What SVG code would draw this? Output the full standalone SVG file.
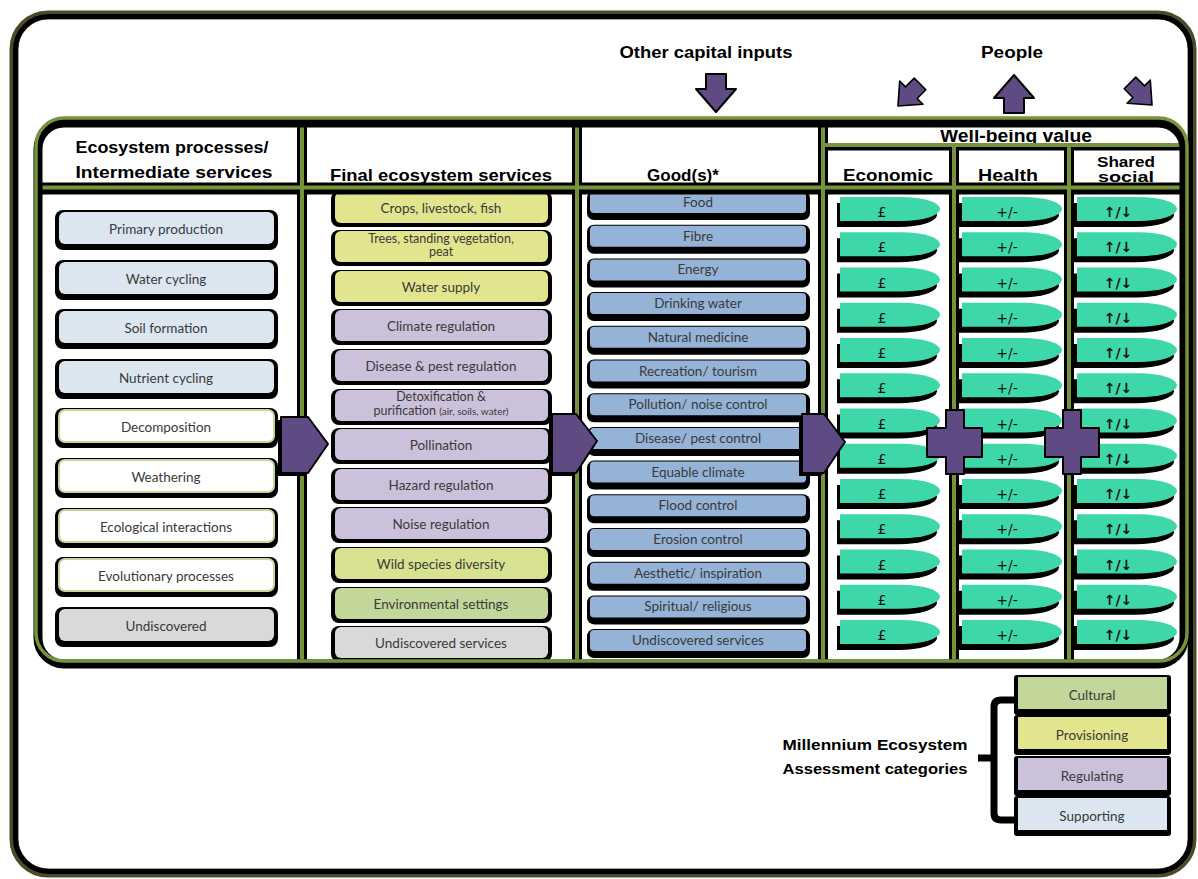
<svg xmlns="http://www.w3.org/2000/svg" width="1198" height="879" viewBox="0 0 1198 879">
<defs>
<style>
.hd{font-family:"Liberation Sans",Arial,sans-serif;font-weight:bold;fill:#000;text-anchor:middle}
.lb{font-family:Lato,"Open Sans","Liberation Sans",sans-serif;font-size:13.5px;fill:#3a3a3a;text-anchor:middle}
.l2{font-size:12.5px}
.sm{font-size:10px}
.sh{fill:#000}
.sup{fill:#dce6f1}
.wg{fill:#fff;stroke:#c3d69b;stroke-width:2}
.und{fill:#d9d9d9}
.pro{fill:#e3e58e}
.reg{fill:#ccc1da}
.wild{fill:#d8e290}
.cul{fill:#c4d79b}
.gd{fill:#95b3d7}
.pill{fill:#3ed7aa}
.pur{fill:#5f4a84;stroke:#000;stroke-width:2;stroke-linejoin:round}
.gl{stroke:#77933c;stroke-width:4;fill:none}
.bl{stroke:#000;stroke-width:10;fill:none}
.pv{font-family:"DejaVu Sans",sans-serif;font-size:14px;fill:#111;text-anchor:middle}
.pva{font-family:"DejaVu Sans",sans-serif;font-size:14px;font-weight:bold;fill:#111;text-anchor:middle}
</style>
<path id="pl" d="M0,0 H62 A38,12 0 0 1 62,24 H0 Z"/>
<path id="ar" d="M-10,-19 H10 V-4 H20 L0,19 L-20,-4 H-10 Z"/>
<clipPath id="cw"><rect x="826" y="130" width="358" height="15"/></clipPath>
<clipPath id="cs"><rect x="1074" y="156" width="110" height="28"/></clipPath>
</defs>
<rect width="1198" height="879" fill="#fff"/>
<g id="frame">
<rect x="14" y="15" width="1178" height="858" rx="34" fill="#fff" stroke="#4d4a2a" stroke-width="9"/>
<rect x="15.5" y="16.5" width="1175" height="855" rx="33" fill="none" stroke="#000" stroke-width="5"/>
</g>
<g id="top-labels">
<text class="hd" x="706" y="58" font-size="16" textLength="173" lengthAdjust="spacingAndGlyphs">Other capital inputs</text>
<text class="hd" x="1012" y="58" font-size="16" textLength="62" lengthAdjust="spacingAndGlyphs">People</text>
</g>
<g id="table-bg">
<rect x="36" y="118" width="1151" height="543" rx="28" fill="#fff"/>
</g>
<g id="headers">
<text class="hd" x="172" y="153" font-size="17" textLength="193" lengthAdjust="spacingAndGlyphs">Ecosystem processes/</text>
<text class="hd" x="174" y="178" font-size="17" textLength="197" lengthAdjust="spacingAndGlyphs">Intermediate services</text>
<text class="hd" x="441" y="181" font-size="17" textLength="222" lengthAdjust="spacingAndGlyphs">Final ecosystem services</text>
<text class="hd" x="683" y="181" font-size="17">Good(s)*</text>
<text class="hd" x="1016" y="142" font-size="18" textLength="152" lengthAdjust="spacingAndGlyphs" clip-path="url(#cw)">Well-being value</text>
<text class="hd" x="888" y="181" font-size="17" textLength="90" lengthAdjust="spacingAndGlyphs">Economic</text>
<text class="hd" x="1008" y="181" font-size="17" textLength="60" lengthAdjust="spacingAndGlyphs">Health</text>
<g clip-path="url(#cs)">
<text class="hd" x="1126" y="167" font-size="15" textLength="58" lengthAdjust="spacingAndGlyphs">Shared</text>
<text class="hd" x="1126" y="182" font-size="15" textLength="56" lengthAdjust="spacingAndGlyphs">social</text>
</g>
</g>
<!-- column 1 -->
<g id="c1-primary"><rect class="sh" x="55" y="210" width="223" height="40" rx="8"/><rect class="sup" x="59" y="212" width="215" height="32" rx="6"/><text class="lb" x="166" y="234">Primary production</text></g>
<g id="c1-water"><rect class="sh" x="55" y="260" width="223" height="40" rx="8"/><rect class="sup" x="59" y="262" width="215" height="32" rx="6"/><text class="lb" x="166" y="284">Water cycling</text></g>
<g id="c1-soil"><rect class="sh" x="55" y="309" width="223" height="40" rx="8"/><rect class="sup" x="59" y="311" width="215" height="32" rx="6"/><text class="lb" x="166" y="333">Soil formation</text></g>
<g id="c1-nutrient"><rect class="sh" x="55" y="359" width="223" height="40" rx="8"/><rect class="sup" x="59" y="361" width="215" height="32" rx="6"/><text class="lb" x="166" y="383">Nutrient cycling</text></g>
<g id="c1-decomp"><rect class="sh" x="55" y="408" width="223" height="40" rx="8"/><rect class="wg" x="59" y="410" width="215" height="32" rx="6"/><text class="lb" x="166" y="432">Decomposition</text></g>
<g id="c1-weather"><rect class="sh" x="55" y="458" width="223" height="40" rx="8"/><rect class="wg" x="59" y="460" width="215" height="32" rx="6"/><text class="lb" x="166" y="482">Weathering</text></g>
<g id="c1-ecol"><rect class="sh" x="55" y="508" width="223" height="40" rx="8"/><rect class="wg" x="59" y="510" width="215" height="32" rx="6"/><text class="lb" x="166" y="532">Ecological interactions</text></g>
<g id="c1-evol"><rect class="sh" x="55" y="557" width="223" height="40" rx="8"/><rect class="wg" x="59" y="559" width="215" height="32" rx="6"/><text class="lb" x="166" y="581">Evolutionary processes</text></g>
<g id="c1-undisc"><rect class="sh" x="55" y="607" width="223" height="40" rx="8"/><rect class="und" x="59" y="609" width="215" height="32" rx="6"/><text class="lb" x="166" y="631">Undiscovered</text></g>
<!-- column 2 -->
<g id="c2-crops"><rect class="sh" x="331" y="191" width="221" height="36" rx="8"/><rect class="pro" x="335" y="192" width="213" height="31" rx="6"/><text class="lb" x="441" y="213">Crops, livestock, fish</text></g>
<g id="c2-trees"><rect class="sh" x="331" y="230" width="221" height="36" rx="8"/><rect class="pro" x="335" y="231" width="213" height="31" rx="6"/><text class="lb l2" x="441" y="243">Trees, standing vegetation,</text><text class="lb l2" x="441" y="256">peat</text></g>
<g id="c2-watersup"><rect class="sh" x="331" y="270" width="221" height="36" rx="8"/><rect class="pro" x="335" y="271" width="213" height="31" rx="6"/><text class="lb" x="441" y="292">Water supply</text></g>
<g id="c2-climate"><rect class="sh" x="331" y="309" width="221" height="36" rx="8"/><rect class="reg" x="335" y="310" width="213" height="31" rx="6"/><text class="lb" x="441" y="331">Climate regulation</text></g>
<g id="c2-disease"><rect class="sh" x="331" y="349" width="221" height="36" rx="8"/><rect class="reg" x="335" y="350" width="213" height="31" rx="6"/><text class="lb" x="441" y="371">Disease &amp; pest regulation</text></g>
<g id="c2-detox"><rect class="sh" x="331" y="389" width="221" height="36" rx="8"/><rect class="reg" x="335" y="390" width="213" height="31" rx="6"/><text class="lb l2" x="441" y="401">Detoxification &amp;</text><text class="lb l2" x="441" y="415">purification <tspan class="sm">(air, soils, water)</tspan></text></g>
<g id="c2-pollin"><rect class="sh" x="331" y="428" width="221" height="36" rx="8"/><rect class="reg" x="335" y="429" width="213" height="31" rx="6"/><text class="lb" x="441" y="450">Pollination</text></g>
<g id="c2-hazard"><rect class="sh" x="331" y="468" width="221" height="36" rx="8"/><rect class="reg" x="335" y="469" width="213" height="31" rx="6"/><text class="lb" x="441" y="490">Hazard regulation</text></g>
<g id="c2-noise"><rect class="sh" x="331" y="507" width="221" height="36" rx="8"/><rect class="reg" x="335" y="508" width="213" height="31" rx="6"/><text class="lb" x="441" y="529">Noise regulation</text></g>
<g id="c2-wild"><rect class="sh" x="331" y="547" width="221" height="36" rx="8"/><rect class="wild" x="335" y="548" width="213" height="31" rx="6"/><text class="lb" x="441" y="569">Wild species diversity</text></g>
<g id="c2-env"><rect class="sh" x="331" y="587" width="221" height="36" rx="8"/><rect class="cul" x="335" y="588" width="213" height="31" rx="6"/><text class="lb" x="441" y="609">Environmental settings</text></g>
<g id="c2-undisc"><rect class="sh" x="331" y="626" width="221" height="36" rx="8"/><rect class="und" x="335" y="627" width="213" height="31" rx="6"/><text class="lb" x="441" y="648">Undiscovered services</text></g>
<!-- column 3 -->
<g id="c3-food"><rect class="sh" x="587" y="191" width="223" height="29" rx="7"/><rect class="gd" x="590" y="192" width="216" height="21" rx="4"/><text class="lb" x="698" y="207">Food</text></g>
<g id="c3-fibre"><rect class="sh" x="587" y="224.7" width="223" height="29" rx="7"/><rect class="gd" x="590" y="225.7" width="216" height="21" rx="4"/><text class="lb" x="698" y="240.7">Fibre</text></g>
<g id="c3-energy"><rect class="sh" x="587" y="258.4" width="223" height="29" rx="7"/><rect class="gd" x="590" y="259.4" width="216" height="21" rx="4"/><text class="lb" x="698" y="274.4">Energy</text></g>
<g id="c3-drink"><rect class="sh" x="587" y="292.1" width="223" height="29" rx="7"/><rect class="gd" x="590" y="293.1" width="216" height="21" rx="4"/><text class="lb" x="698" y="308.1">Drinking water</text></g>
<g id="c3-medicine"><rect class="sh" x="587" y="325.8" width="223" height="29" rx="7"/><rect class="gd" x="590" y="326.8" width="216" height="21" rx="4"/><text class="lb" x="698" y="341.8">Natural medicine</text></g>
<g id="c3-recreation"><rect class="sh" x="587" y="359.5" width="223" height="29" rx="7"/><rect class="gd" x="590" y="360.5" width="216" height="21" rx="4"/><text class="lb" x="698" y="375.5">Recreation/ tourism</text></g>
<g id="c3-pollution"><rect class="sh" x="587" y="393.2" width="223" height="29" rx="7"/><rect class="gd" x="590" y="394.2" width="216" height="21" rx="4"/><text class="lb" x="698" y="409.2">Pollution/ noise control</text></g>
<g id="c3-disease"><rect class="sh" x="587" y="426.9" width="223" height="29" rx="7"/><rect class="gd" x="590" y="427.9" width="216" height="21" rx="4"/><text class="lb" x="698" y="442.9">Disease/ pest control</text></g>
<g id="c3-climate"><rect class="sh" x="587" y="460.6" width="223" height="29" rx="7"/><rect class="gd" x="590" y="461.6" width="216" height="21" rx="4"/><text class="lb" x="698" y="476.6">Equable climate</text></g>
<g id="c3-flood"><rect class="sh" x="587" y="494.3" width="223" height="29" rx="7"/><rect class="gd" x="590" y="495.3" width="216" height="21" rx="4"/><text class="lb" x="698" y="510.3">Flood control</text></g>
<g id="c3-erosion"><rect class="sh" x="587" y="528" width="223" height="29" rx="7"/><rect class="gd" x="590" y="529" width="216" height="21" rx="4"/><text class="lb" x="698" y="544">Erosion control</text></g>
<g id="c3-aesthetic"><rect class="sh" x="587" y="561.7" width="223" height="29" rx="7"/><rect class="gd" x="590" y="562.7" width="216" height="21" rx="4"/><text class="lb" x="698" y="577.7">Aesthetic/ inspiration</text></g>
<g id="c3-spiritual"><rect class="sh" x="587" y="595.4" width="223" height="29" rx="7"/><rect class="gd" x="590" y="596.4" width="216" height="21" rx="4"/><text class="lb" x="698" y="611.4">Spiritual/ religious</text></g>
<g id="c3-undisc"><rect class="sh" x="587" y="629.1" width="223" height="29" rx="7"/><rect class="gd" x="590" y="630.1" width="216" height="21" rx="4"/><text class="lb" x="698" y="645.1">Undiscovered services</text></g>
<!-- economic -->
<g id="eco1" transform="translate(840,197)"><use href="#pl" x="-3" y="6" class="sh"/><use href="#pl" class="pill"/><text class="pv" x="42" y="20">£</text></g>
<g id="eco2" transform="translate(840,232.25)"><use href="#pl" x="-3" y="6" class="sh"/><use href="#pl" class="pill"/><text class="pv" x="42" y="20">£</text></g>
<g id="eco3" transform="translate(840,267.5)"><use href="#pl" x="-3" y="6" class="sh"/><use href="#pl" class="pill"/><text class="pv" x="42" y="20">£</text></g>
<g id="eco4" transform="translate(840,302.75)"><use href="#pl" x="-3" y="6" class="sh"/><use href="#pl" class="pill"/><text class="pv" x="42" y="20">£</text></g>
<g id="eco5" transform="translate(840,338)"><use href="#pl" x="-3" y="6" class="sh"/><use href="#pl" class="pill"/><text class="pv" x="42" y="20">£</text></g>
<g id="eco6" transform="translate(840,373.25)"><use href="#pl" x="-3" y="6" class="sh"/><use href="#pl" class="pill"/><text class="pv" x="42" y="20">£</text></g>
<g id="eco7" transform="translate(840,408.5)"><use href="#pl" x="-3" y="6" class="sh"/><use href="#pl" class="pill"/><text class="pv" x="42" y="20">£</text></g>
<g id="eco8" transform="translate(840,443.75)"><use href="#pl" x="-3" y="6" class="sh"/><use href="#pl" class="pill"/><text class="pv" x="42" y="20">£</text></g>
<g id="eco9" transform="translate(840,479)"><use href="#pl" x="-3" y="6" class="sh"/><use href="#pl" class="pill"/><text class="pv" x="42" y="20">£</text></g>
<g id="eco10" transform="translate(840,514.25)"><use href="#pl" x="-3" y="6" class="sh"/><use href="#pl" class="pill"/><text class="pv" x="42" y="20">£</text></g>
<g id="eco11" transform="translate(840,549.5)"><use href="#pl" x="-3" y="6" class="sh"/><use href="#pl" class="pill"/><text class="pv" x="42" y="20">£</text></g>
<g id="eco12" transform="translate(840,584.75)"><use href="#pl" x="-3" y="6" class="sh"/><use href="#pl" class="pill"/><text class="pv" x="42" y="20">£</text></g>
<g id="eco13" transform="translate(840,620)"><use href="#pl" x="-3" y="6" class="sh"/><use href="#pl" class="pill"/><text class="pv" x="42" y="20">£</text></g>
<!-- health -->
<g id="hea1" transform="translate(962,197)"><use href="#pl" x="-3" y="6" class="sh"/><use href="#pl" class="pill"/><text class="pv" x="45" y="20">+/-</text></g>
<g id="hea2" transform="translate(962,232.25)"><use href="#pl" x="-3" y="6" class="sh"/><use href="#pl" class="pill"/><text class="pv" x="45" y="20">+/-</text></g>
<g id="hea3" transform="translate(962,267.5)"><use href="#pl" x="-3" y="6" class="sh"/><use href="#pl" class="pill"/><text class="pv" x="45" y="20">+/-</text></g>
<g id="hea4" transform="translate(962,302.75)"><use href="#pl" x="-3" y="6" class="sh"/><use href="#pl" class="pill"/><text class="pv" x="45" y="20">+/-</text></g>
<g id="hea5" transform="translate(962,338)"><use href="#pl" x="-3" y="6" class="sh"/><use href="#pl" class="pill"/><text class="pv" x="45" y="20">+/-</text></g>
<g id="hea6" transform="translate(962,373.25)"><use href="#pl" x="-3" y="6" class="sh"/><use href="#pl" class="pill"/><text class="pv" x="45" y="20">+/-</text></g>
<g id="hea7" transform="translate(962,408.5)"><use href="#pl" x="-3" y="6" class="sh"/><use href="#pl" class="pill"/><text class="pv" x="45" y="20">+/-</text></g>
<g id="hea8" transform="translate(962,443.75)"><use href="#pl" x="-3" y="6" class="sh"/><use href="#pl" class="pill"/><text class="pv" x="45" y="20">+/-</text></g>
<g id="hea9" transform="translate(962,479)"><use href="#pl" x="-3" y="6" class="sh"/><use href="#pl" class="pill"/><text class="pv" x="45" y="20">+/-</text></g>
<g id="hea10" transform="translate(962,514.25)"><use href="#pl" x="-3" y="6" class="sh"/><use href="#pl" class="pill"/><text class="pv" x="45" y="20">+/-</text></g>
<g id="hea11" transform="translate(962,549.5)"><use href="#pl" x="-3" y="6" class="sh"/><use href="#pl" class="pill"/><text class="pv" x="45" y="20">+/-</text></g>
<g id="hea12" transform="translate(962,584.75)"><use href="#pl" x="-3" y="6" class="sh"/><use href="#pl" class="pill"/><text class="pv" x="45" y="20">+/-</text></g>
<g id="hea13" transform="translate(962,620)"><use href="#pl" x="-3" y="6" class="sh"/><use href="#pl" class="pill"/><text class="pv" x="45" y="20">+/-</text></g>
<!-- shared social -->
<g id="soc1" transform="translate(1077,197)"><use href="#pl" x="-3" y="6" class="sh"/><use href="#pl" class="pill"/><text class="pva" x="41" y="20">↑/↓</text></g>
<g id="soc2" transform="translate(1077,232.25)"><use href="#pl" x="-3" y="6" class="sh"/><use href="#pl" class="pill"/><text class="pva" x="41" y="20">↑/↓</text></g>
<g id="soc3" transform="translate(1077,267.5)"><use href="#pl" x="-3" y="6" class="sh"/><use href="#pl" class="pill"/><text class="pva" x="41" y="20">↑/↓</text></g>
<g id="soc4" transform="translate(1077,302.75)"><use href="#pl" x="-3" y="6" class="sh"/><use href="#pl" class="pill"/><text class="pva" x="41" y="20">↑/↓</text></g>
<g id="soc5" transform="translate(1077,338)"><use href="#pl" x="-3" y="6" class="sh"/><use href="#pl" class="pill"/><text class="pva" x="41" y="20">↑/↓</text></g>
<g id="soc6" transform="translate(1077,373.25)"><use href="#pl" x="-3" y="6" class="sh"/><use href="#pl" class="pill"/><text class="pva" x="41" y="20">↑/↓</text></g>
<g id="soc7" transform="translate(1077,408.5)"><use href="#pl" x="-3" y="6" class="sh"/><use href="#pl" class="pill"/><text class="pva" x="41" y="20">↑/↓</text></g>
<g id="soc8" transform="translate(1077,443.75)"><use href="#pl" x="-3" y="6" class="sh"/><use href="#pl" class="pill"/><text class="pva" x="41" y="20">↑/↓</text></g>
<g id="soc9" transform="translate(1077,479)"><use href="#pl" x="-3" y="6" class="sh"/><use href="#pl" class="pill"/><text class="pva" x="41" y="20">↑/↓</text></g>
<g id="soc10" transform="translate(1077,514.25)"><use href="#pl" x="-3" y="6" class="sh"/><use href="#pl" class="pill"/><text class="pva" x="41" y="20">↑/↓</text></g>
<g id="soc11" transform="translate(1077,549.5)"><use href="#pl" x="-3" y="6" class="sh"/><use href="#pl" class="pill"/><text class="pva" x="41" y="20">↑/↓</text></g>
<g id="soc12" transform="translate(1077,584.75)"><use href="#pl" x="-3" y="6" class="sh"/><use href="#pl" class="pill"/><text class="pva" x="41" y="20">↑/↓</text></g>
<g id="soc13" transform="translate(1077,620)"><use href="#pl" x="-3" y="6" class="sh"/><use href="#pl" class="pill"/><text class="pva" x="41" y="20">↑/↓</text></g>
<!-- grid -->
<g id="grid">
<line class="bl" x1="302" y1="122" x2="302" y2="662"/>
<line class="bl" x1="577" y1="122" x2="577" y2="662"/>
<line class="bl" x1="823" y1="122" x2="823" y2="662"/>
<line class="bl" x1="954" y1="148" x2="954" y2="662"/>
<line class="bl" x1="1069" y1="148" x2="1069" y2="662"/>
<line stroke="#000" stroke-width="12" x1="38" y1="188.5" x2="1185" y2="188.5"/>
<line stroke="#000" stroke-width="6" x1="823" y1="147.5" x2="1185" y2="147.5"/>
<line class="gl" x1="302" y1="119" x2="302" y2="662"/>
<line class="gl" x1="577" y1="119" x2="577" y2="662"/>
<line class="gl" x1="823" y1="119" x2="823" y2="662"/>
<line class="gl" x1="954" y1="146" x2="954" y2="662"/>
<line class="gl" x1="1069" y1="146" x2="1069" y2="662"/>
<line class="gl" x1="38" y1="187.5" x2="1186" y2="187.5"/>
<line class="gl" x1="823" y1="145" x2="1186" y2="145"/>
</g>
<g id="table-border">
<rect x="38" y="123" width="1146" height="541" rx="26" fill="none" stroke="#000" stroke-width="9"/>
<rect x="36" y="118" width="1151" height="543" rx="28" fill="none" stroke="#77933c" stroke-width="3.5"/>
</g>
<!-- connectors -->
<g id="connectors">
<g transform="translate(-3,3)" fill="#000">
<polygon points="281,417 308,417 328,444 308,473 281,473"/>
<polygon points="552,414 576,414 597,441 576,473 552,473"/>
<polygon points="802,414 824,414 845,442 824,473 802,473"/>
</g>
<polygon class="pur" points="281,417 308,417 328,444 308,473 281,473"/>
<polygon class="pur" points="552,414 576,414 597,441 576,473 552,473"/>
<polygon class="pur" points="802,414 824,414 845,442 824,473 802,473"/>
<path class="pur" stroke="none" d="M946,410 H964 V428 H982 V457 H964 V474 H946 V457 H927 V428 H946 Z"/>
<path class="pur" stroke="none" d="M1063,410 H1081 V428 H1099 V457 H1081 V474 H1063 V457 H1045 V428 H1063 Z"/>
<use href="#ar" class="pur" stroke-width="3" transform="translate(716,93)"/>
<use href="#ar" class="pur" stroke-width="3" transform="translate(909,95) rotate(45) scale(0.82)"/>
<use href="#ar" class="pur" stroke-width="3" transform="translate(1014,94) rotate(180)"/>
<use href="#ar" class="pur" stroke-width="3" transform="translate(1141,94) rotate(-45) scale(0.82)"/>
</g>
<!-- legend -->
<g id="legend">
<text class="hd" x="875" y="750" font-size="15" textLength="185" lengthAdjust="spacingAndGlyphs">Millennium Ecosystem</text>
<text class="hd" x="875" y="774" font-size="15" textLength="185" lengthAdjust="spacingAndGlyphs">Assessment categories</text>
<path d="M1018,700 H1001 Q994,700 994,707 V813 Q994,820 1001,820 H1018 M994,758 H978" fill="none" stroke="#000" stroke-width="7" stroke-linejoin="round"/>
<g id="leg-cultural"><rect class="sh" x="1014" y="675" width="157" height="40" rx="3"/><rect class="cul" x="1018" y="677" width="149" height="32"/><text class="lb" x="1092" y="700" font-size="14.5">Cultural</text></g>
<g id="leg-provisioning"><rect class="sh" x="1014" y="715" width="157" height="40" rx="3"/><rect class="pro" x="1018" y="717" width="149" height="32"/><text class="lb" x="1092" y="740" font-size="14.5">Provisioning</text></g>
<g id="leg-regulating"><rect class="sh" x="1014" y="756" width="157" height="40" rx="3"/><rect class="reg" x="1018" y="758" width="149" height="32"/><text class="lb" x="1092" y="781" font-size="14.5">Regulating</text></g>
<g id="leg-supporting"><rect class="sh" x="1014" y="796" width="157" height="40" rx="3"/><rect class="sup" x="1018" y="798" width="149" height="32"/><text class="lb" x="1092" y="821" font-size="14.5">Supporting</text></g>
</g>
</svg>
